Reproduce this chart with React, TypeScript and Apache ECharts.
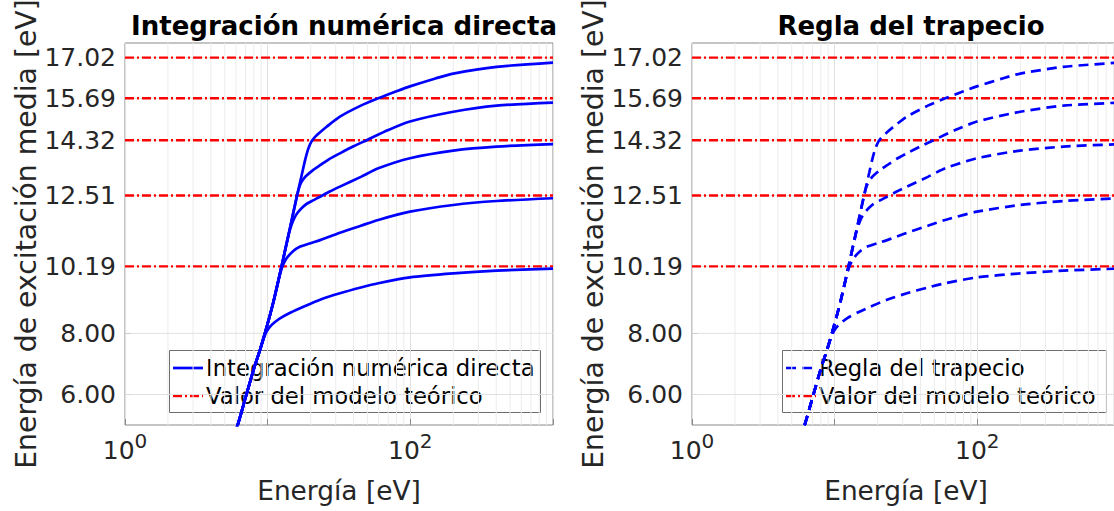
import React, { useEffect, useRef } from "react";
import * as echarts from "echarts";

const FONT = "DejaVu Sans";

// Theoretical mean excitation energies (red dash-dot references)
const theoreticalValues = [10.19, 12.51, 14.32, 15.69, 17.02];
// Y tick labels
const yTickValues = [6.0, 8.0, 10.19, 12.51, 14.32, 15.69, 17.02];
// X minor grid (log decades)
const xMinorGrid = [2, 3, 4, 5, 6, 7, 8, 9, 20, 30, 40, 50, 60, 70, 80, 90, 200, 300, 400, 500, 600, 700, 800, 900];

// Curves: [energy eV, mean excitation energy eV]
const curveI1019 = [
  [5.6, 4.5], [6.16, 5.0], [7.0, 5.9], [8.0, 6.84], [8.83, 7.45], [9.5, 7.9], [9.9, 8.08],
  [10.4, 8.22], [11.2, 8.36], [12.2, 8.49], [14.5, 8.68], [17.8, 8.87], [23.3, 9.1],
  [32.1, 9.31], [45, 9.5], [59.6, 9.64], [99.4, 9.83], [200, 9.96], [402, 10.05], [1000, 10.12],
];
const curveI1251 = [
  [5.6, 4.5], [6.16, 5.0], [7.0, 5.9], [8.0, 6.84], [8.83, 7.45], [9.84, 8.2], [11.0, 9.05],
  [12.0, 9.8], [12.6, 10.15], [13.2, 10.36], [13.8, 10.5], [15.0, 10.68], [16.8, 10.83],
  [20, 10.95], [23.3, 11.05], [32.1, 11.29], [45, 11.52], [59.6, 11.71], [99.4, 11.98],
  [200, 12.2], [402, 12.33], [1000, 12.42],
];
const curveI1432 = [
  [5.6, 4.5], [6.16, 5.0], [7.0, 5.9], [8.0, 6.84], [8.83, 7.45], [9.84, 8.2], [11.0, 9.05],
  [12.5, 10.18], [14.0, 11.22], [14.7, 11.55], [15.4, 11.78], [16.3, 11.96], [17.5, 12.12],
  [18.8, 12.24], [21, 12.36], [23.3, 12.47], [27, 12.63], [32.1, 12.8], [45, 13.12],
  [59.6, 13.4], [99.4, 13.73], [200, 13.98], [402, 14.11], [1000, 14.19],
];
const curveI1569 = [
  [5.6, 4.5], [6.16, 5.0], [7.0, 5.9], [8.0, 6.84], [8.83, 7.45], [9.84, 8.2], [11.0, 9.05],
  [12.5, 10.18], [14.0, 11.22], [16.0, 12.47], [16.7, 12.8], [17.4, 12.98], [18.5, 13.14],
  [20.9, 13.35], [23.3, 13.5], [27, 13.7], [32.1, 13.89], [40, 14.12], [49.4, 14.32],
  [70, 14.65], [99.4, 14.93], [200, 15.25], [402, 15.45], [1000, 15.55],
];
const curveI1702 = [
  [5.6, 4.5], [6.16, 5.0], [7.0, 5.9], [8.0, 6.84], [8.83, 7.45], [9.84, 8.2], [11.0, 9.05],
  [12.5, 10.18], [14.0, 11.22], [16.0, 12.47], [17.5, 13.27], [18.3, 13.67], [19.3, 14.05],
  [20.3, 14.28], [21.5, 14.43], [23.3, 14.58], [25.9, 14.76], [32.1, 15.09], [45, 15.45],
  [59.6, 15.69], [80, 15.92], [99.4, 16.08], [150, 16.34], [200, 16.5], [402, 16.72], [1000, 16.86],
];
const curves = [curveI1019, curveI1251, curveI1432, curveI1569, curveI1702];

const panelTitles = ["Integración numérica directa", "Regla del trapecio"];
const curveNames = ["Integración numérica directa", "Regla del trapecio"];
const theoryName = "Valor del modelo teórico";
const xName = "Energía [eV]";
const yName = "Energía de excitación media [eV]";
const X_MIN = 1;
const X_MAX = 1000;
const Y_MIN = 5;
const Y_MAX = 17.5;

// layout
const panelLeft = [125, 692];
const gridTop = 43;
const gridW = 428;
const gridH = 382;
const legendBox = [
  { x: 169, w: 371 },
  { x: 782, w: 324 },
];

const BLUE = "#0000ff";
const RED = "#ff0000";
const GRID_MAJOR = "#e0e0e0";
const GRID_MINOR = "#ececec";
const DASH_DOT = [9, 3, 2, 3];
const DASHED = [10, 6];

function buildOption() {
  const grids: any[] = [];
  const xAxes: any[] = [];
  const yAxes: any[] = [];
  const series: any[] = [];
  const titles: any[] = [];
  const graphics: any[] = [];

  for (let p = 0; p < 2; p++) {
    grids.push({
      left: panelLeft[p],
      top: gridTop,
      width: gridW,
      height: gridH,
      containLabel: false,
      outerBoundsMode: "none",
      show: true,
      backgroundColor: "#fff",
      borderColor: "#8a8a8a",
      borderWidth: 1,
    });
    xAxes.push({
      type: "log",
      logBase: 10,
      gridIndex: p,
      min: X_MIN,
      max: X_MAX,
      axisLine: { show: false },
      axisTick: { show: true, inside: true, length: 6, lineStyle: { color: "#8a8a8a" } },
      splitLine: { show: true, lineStyle: { color: GRID_MAJOR, width: 1 } },
      axisLabel: {
        margin: 13,
        color: "#262626",
        fontFamily: FONT,
        formatter: (v: number) => {
          const e = Math.round(Math.log10(v));
          if (e === 0 || e === 2) return "{a|10}{b|" + e + "}";
          return "";
        },
        rich: {
          a: { fontSize: 25, fontFamily: FONT, color: "#262626", lineHeight: 25, verticalAlign: "bottom" },
          b: { fontSize: 20, fontFamily: FONT, color: "#262626", lineHeight: 20, padding: [0, 0, 12, 0], verticalAlign: "bottom" },
        },
      },
      name: xName,
      nameLocation: "middle",
      nameGap: 52,
      nameTextStyle: { fontFamily: FONT, fontSize: 26.4, color: "#262626" },
    });
    yAxes.push({
      type: "value",
      gridIndex: p,
      min: Y_MIN,
      max: Y_MAX,
      axisLine: { show: false },
      axisTick: { show: true, inside: true, length: 6, customValues: yTickValues, lineStyle: { color: "#8a8a8a" } },
      splitLine: { show: false },
      axisLabel: {
        customValues: yTickValues,
        margin: 9,
        color: "#262626",
        fontFamily: FONT,
        fontSize: 25,
        formatter: (v: number) => v.toFixed(2),
      },
      name: yName,
      nameLocation: "middle",
      nameGap: 79,
      nameRotate: 90,
      nameTextStyle: { fontFamily: FONT, fontSize: 28.3, color: "#262626" },
    });

    // minor vertical grid lines
    xMinorGrid.forEach((v) => {
      series.push({
        type: "line",
        name: "_vgrid",
        xAxisIndex: p,
        yAxisIndex: p,
        data: [[v, Y_MIN], [v, Y_MAX]],
        symbol: "none",
        silent: true,
        z: 1,
        lineStyle: { color: GRID_MINOR, width: 1 },
      });
    });
    // horizontal grid lines at y ticks
    yTickValues.forEach((v) => {
      series.push({
        type: "line",
        name: "_hgrid",
        xAxisIndex: p,
        yAxisIndex: p,
        data: [[X_MIN, v], [X_MAX, v]],
        symbol: "none",
        silent: true,
        z: 1,
        lineStyle: { color: GRID_MAJOR, width: 1 },
      });
    });

    theoreticalValues.forEach((v) => {
      series.push({
        type: "line",
        name: theoryName,
        xAxisIndex: p,
        yAxisIndex: p,
        data: [[X_MIN, v], [X_MAX, v]],
        symbol: "none",
        z: 3,
        lineStyle: { color: RED, width: 2.4, type: DASH_DOT },
      });
    });

    curves.forEach((c) => {
      series.push({
        type: "line",
        name: curveNames[p],
        xAxisIndex: p,
        yAxisIndex: p,
        data: c,
        symbol: "none",
        smooth: 0.25,
        clip: true,
        z: 4,
        lineStyle: { color: BLUE, width: 2.7, type: p === 0 ? "solid" : DASHED },
      });
    });

    titles.push({
      text: panelTitles[p],
      left: panelLeft[p] + gridW / 2,
      top: 8,
      textAlign: "center",
      textStyle: { fontFamily: FONT, fontSize: 26, fontWeight: "bold", color: "#000" },
    });

    // legend box
    const lb = legendBox[p];
    const rowY = [368, 396];
    graphics.push({
      type: "group",
      z: 100,
      children: [
        {
          type: "rect",
          shape: { x: lb.x + 0.5, y: 350.5, width: lb.w, height: 62 },
          style: { fill: "#fff", stroke: "#6e6e6e", lineWidth: 1 },
        },
        {
          type: "line",
          shape: { x1: lb.x + 4, y1: rowY[0], x2: lb.x + 34, y2: rowY[0] },
          style: { stroke: BLUE, lineWidth: 2.7, lineDash: p === 0 ? null : DASHED },
        },
        {
          type: "text",
          x: lb.x + 37,
          y: rowY[0],
          style: { text: curveNames[p], font: `22.7px "${FONT}"`, fill: "#000", verticalAlign: "middle", align: "left" },
        },
        {
          type: "line",
          shape: { x1: lb.x + 4, y1: rowY[1], x2: lb.x + 34, y2: rowY[1] },
          style: { stroke: RED, lineWidth: 2.4, lineDash: DASH_DOT },
        },
        {
          type: "text",
          x: lb.x + 37,
          y: rowY[1],
          style: { text: theoryName, font: `22.7px "${FONT}"`, fill: "#000", verticalAlign: "middle", align: "left" },
        },
      ],
    });
  }

  return {
    animation: false,
    backgroundColor: "#fff",
    title: titles,
    grid: grids,
    xAxis: xAxes,
    yAxis: yAxes,
    series,
    graphic: graphics,
  };
}

export default function App() {
  const ref = useRef<HTMLDivElement>(null);
  useEffect(() => {
    if (!ref.current) return;
    const chart = echarts.init(ref.current, undefined, { renderer: "svg" });
    chart.setOption(buildOption() as any);
    return () => chart.dispose();
  }, []);
  return (
    <div style={{ position: "fixed", left: 0, top: 0, width: 1114, height: 511, overflow: "hidden", background: "#fff" }}>
      <div ref={ref} style={{ width: 1124, height: 511 }} />
    </div>
  );
}
